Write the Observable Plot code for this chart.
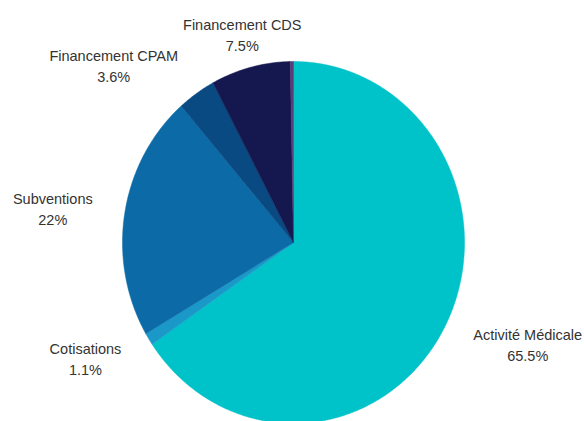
<!DOCTYPE html>
<html><head><meta charset="utf-8">
<script src="https://cdn.jsdelivr.net/npm/d3@7"></script>
<script src="https://cdn.jsdelivr.net/npm/@observablehq/plot@0.6"></script>
<style>
html,body{margin:0;padding:0;background:#fff;}
#chart svg{display:block;}
</style>
</head><body>
<div id="chart"></div>
<script>
const categories = ["Activité Médicale", "Cotisations", "Subventions", "Financement CPAM", "Financement CDS", "Autres"];
const values = [65.5, 1.1, 22, 3.6, 7.5, 0.3];
const labels = ["65.5%", "1.1%", "22%", "3.6%", "7.5%", ""];
const colors = ["#00c2c9", "#1a98c8", "#0c6aa6", "#0a4a82", "#15184f", "#5b3c78"];

const FONT = "Liberation Sans, Arial, sans-serif";
const FS = 14.5;
const ctx = document.createElement("canvas").getContext("2d");
ctx.font = `${FS}px ${FONT}`;

const total = d3.sum(values);
let acc = 0;
const slices = categories.map((c, i) => {
  const a0 = acc / total * 2 * Math.PI;
  acc += values[i];
  const a1 = acc / total * 2 * Math.PI;
  return {c, i, a0, a1, mid: (a0 + a1) / 2};
});

const pts = [];
for (const s of slices) {
  pts.push({c: s.c, u: 0, v: 0});
  const n = Math.max(2, Math.ceil((s.a1 - s.a0) / 0.01));
  for (let k = 0; k <= n; k++) {
    const a = s.a0 + (s.a1 - s.a0) * k / n;
    pts.push({c: s.c, u: Math.sin(a), v: Math.cos(a)});
  }
  pts.push({c: s.c, u: 0, v: 0});
}

const lr = 1.19;
const lab = slices.filter(s => labels[s.i] !== "").map(s => {
  const sx = Math.sin(s.mid);
  const w = Math.max(ctx.measureText(s.c).width, ctx.measureText(labels[s.i]).width);
  const side = Math.abs(sx) < 0.35 ? 0 : (sx < 0 ? -1 : 1);
  return {
    text: s.c + "\n" + labels[s.i],
    u: lr * sx, v: lr * Math.cos(s.mid),
    dx: side * w / 2
  };
});

const plot = Plot.plot({
  width: 584, height: 421,
  margin: 0,
  x: {domain: [-293 / 171, 291 / 171], axis: null},
  y: {domain: [-179 / 181, 242 / 181], axis: null},
  color: {domain: categories, range: colors},
  style: {fontFamily: FONT, background: "#fff"},
  marks: [
    Plot.line(pts, {x: "u", y: "v", z: "c", fill: "c", stroke: "c", strokeWidth: 0.5, curve: "linear"}),
    ...lab.map(d =>
      Plot.text([d], {
        x: "u", y: "v", text: "text", textAnchor: "middle", dx: d.dx,
        lineAnchor: "middle", lineHeight: 1.45,
        fontSize: FS, fill: "#333"
      }))
  ]
});
document.getElementById("chart").appendChild(plot);
</script>
</body></html>
